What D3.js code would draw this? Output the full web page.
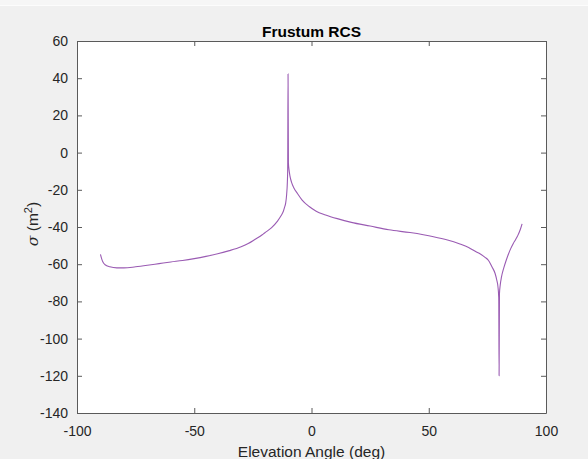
<!DOCTYPE html>
<html>
<head>
<meta charset="utf-8">
<script src="https://cdn.jsdelivr.net/npm/d3@7"></script>
<style>
  html, body { margin: 0; padding: 0; background: #f0f0f0; }
  svg { display: block; }
  text { font-family: "Liberation Sans", Arial, Helvetica, sans-serif; }
</style>
</head>
<body>
<svg id="chart" width="588" height="459"></svg>
<script>
// Elevation angle samples (deg) and radar cross section (dB m^2) of the frustum
const angles = [
  -90, -89.5, -89, -88, -86, -83, -80, -75, -70, -65, -60, -55, -50, -45, -40,
  -35, -30, -27, -24, -21, -20, -17, -14.5, -13, -12, -11.5, -11, -10.6, -10.3,
  -10.15, -10, -9.85, -9.6, -9.2, -8.5, -7.5, -6, -4, -1, 2, 6, 11, 17, 25, 33,
  42, 52, 58, 63, 67, 70, 72, 74, 75.5, 77, 78.3, 79, 79.5, 79.85, 80, 80.15,
  80.5, 81, 82, 83, 84, 85, 86, 87, 88, 89, 89.8
];
const rcs = [
  -54.7, -57.0, -58.7, -60.3, -61.4, -62.0, -62.0, -61.4, -60.6, -59.7, -58.8, -58.0, -57.0, -55.8, -54.4,
  -52.7, -50.6, -48.9, -46.6, -44.2, -43.2, -40.3, -36.8, -34.0, -31.5, -29.5, -27.0, -22.5, -16.0,
  -9.0, 42.3, -5.5, -9.0, -12.5, -16.0, -19.0, -22.0, -25.5, -29.0, -31.5, -33.5, -35.5, -37.5, -39.5, -41.5,
  -43.0, -45.2, -47.0, -49.0, -51.0, -53.2, -54.5, -56.3, -58.0, -61.5, -65.0, -68.5, -72.0, -78.0, -120.0, -76.0,
  -71.0, -67.0, -62.0, -58.0, -54.5, -51.5, -49.0, -46.8, -44.5, -41.5, -38.3
];

const xTicks = [-100, -50, 0, 50, 100];
const yTicks = [-140, -120, -100, -80, -60, -40, -20, 0, 20, 40, 60];

const titleText = "Frustum RCS";
const xLabelText = "Elevation Angle (deg)";

const svg = d3.select("#chart");
const W = 588, H = 459;
const margin = { left: 77, top: 41, right: 42, bottom: 46 };
const innerW = W - margin.left - margin.right;
const innerH = H - margin.top - margin.bottom;

// figure background with the thin light strip along the top edge
svg.append("rect").attr("width", W).attr("height", H).attr("fill", "#f0f0f0");
svg.append("rect").attr("width", W).attr("height", 5).attr("fill", "#f6f6f6");
svg.append("line").attr("x1", 0).attr("x2", W).attr("y1", 5.5).attr("y2", 5.5)
  .attr("stroke", "#fcfcfc").attr("stroke-width", 1);

const x = d3.scaleLinear().domain([-100, 100]).range([0, innerW]);
const y = d3.scaleLinear().domain([-140, 60]).range([innerH, 0]);

const g = svg.append("g").attr("transform", `translate(${margin.left},${margin.top})`);

// white plotting area
g.append("rect").attr("width", innerW).attr("height", innerH).attr("fill", "#ffffff");

const axisColor = "#5a5a5a";
const tickLen = 5;
const plainNumber = d => String(d);   // hyphen-minus, as in the plotting tool

function styleAxis(sel, showLabels) {
  sel.select(".domain").attr("stroke", axisColor).attr("stroke-width", 1);
  sel.selectAll(".tick line").attr("stroke", axisColor).attr("stroke-width", 1);
  sel.selectAll(".tick text")
    .attr("fill", "#262626")
    .style("font-size", "14px")
    .style("display", showLabels ? null : "none");
}

// bottom and left axes carry labels; top and right only mirror the ticks
const gx = g.append("g").attr("transform", `translate(0,${innerH})`)
  .call(d3.axisBottom(x).tickValues(xTicks).tickSize(-tickLen).tickPadding(10)
    .tickSizeOuter(0).tickFormat(plainNumber));
styleAxis(gx, true);
gx.selectAll(".tick text").attr("dy", "0.95em");

const gxTop = g.append("g")
  .call(d3.axisTop(x).tickValues(xTicks).tickSize(-tickLen).tickSizeOuter(0));
styleAxis(gxTop, false);

const gy = g.append("g")
  .call(d3.axisLeft(y).tickValues(yTicks).tickSize(-tickLen).tickPadding(9)
    .tickSizeOuter(0).tickFormat(plainNumber));
styleAxis(gy, true);

const gyRight = g.append("g").attr("transform", `translate(${innerW},0)`)
  .call(d3.axisRight(y).tickValues(yTicks).tickSize(-tickLen).tickSizeOuter(0));
styleAxis(gyRight, false);

// RCS curve
const pts = angles.map((a, i) => [a, rcs[i]]);
const line = d3.line()
  .x(d => x(d[0]))
  .y(d => y(d[1]))
  .curve(d3.curveMonotoneX);

g.append("path")
  .datum(pts)
  .attr("fill", "none")
  .attr("stroke", "#9a5bb3")
  .attr("stroke-width", 1.1)
  .attr("stroke-linejoin", "round")
  .attr("d", line);

// title
svg.append("text")
  .attr("x", margin.left + innerW / 2)
  .attr("y", 37)
  .attr("text-anchor", "middle")
  .style("font-size", "15.5px")
  .style("font-weight", "bold")
  .attr("fill", "#000")
  .text(titleText);

// x label
svg.append("text")
  .attr("x", margin.left + innerW / 2)
  .attr("y", 457)
  .attr("text-anchor", "middle")
  .style("font-size", "15.5px")
  .attr("fill", "#262626")
  .text(xLabelText);

// y label: sigma (m^2)
const yl = svg.append("text")
  .attr("transform", `translate(38,${margin.top + innerH / 2 - 3}) rotate(-90)`)
  .attr("text-anchor", "middle")
  .style("font-size", "15.5px")
  .attr("fill", "#262626");
yl.append("tspan").style("font-style", "italic").style("font-family", "'DejaVu Serif', serif").text("σ");
yl.append("tspan").text(" (m");
yl.append("tspan").attr("dy", -6).style("font-size", "11px").text("2");
yl.append("tspan").attr("dy", 6).text(")");
</script>
</body>
</html>
